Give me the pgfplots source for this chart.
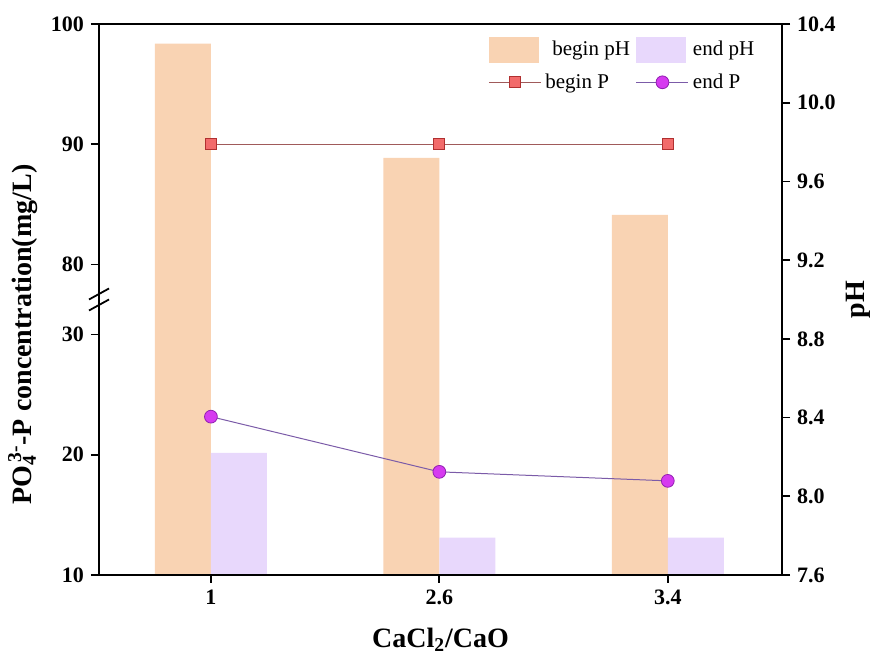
\documentclass[border=0pt]{standalone}
\usepackage{fontspec}
\setmainfont{Liberation Serif}
\usepackage{pgfplots}
\pgfplotsset{compat=1.18}

\definecolor{peach}{HTML}{F9D3B3}
\definecolor{lav}{HTML}{E8D8FC}
\definecolor{bpline}{HTML}{A05A5A}
\definecolor{bpfill}{HTML}{F26B6B}
\definecolor{bpedge}{HTML}{B03030}
\definecolor{epline}{HTML}{7B5BA8}
\definecolor{epfill}{HTML}{D63AF0}
\definecolor{epedge}{HTML}{9020B0}

\pgfplotsset{
  wideline legend/.style={legend image code/.code={%
    \draw[mark repeat=2,mark phase=2,##1] plot coordinates {(0pt,0pt) (13pt,0pt) (26pt,0pt)};}},
  widebar legend/.style={legend image code/.code={%
    \fill[##1] (0pt,-6.5pt) rectangle (25pt,6.5pt);}},
  common/.style={
    scale only axis, width=341.5pt, height=275.5pt,
    xmin=-0.49, xmax=2.5,
    tick align=outside, major tick length=4pt,
    axis line style={line width=0.9pt},
    every tick/.style={line width=0.9pt, black},
    ticklabel style={font=\fontsize{11}{13}\selectfont\bfseries},
    /pgf/number format/assume math mode=true,
  },
}

% pH (right axis, bars)
\pgfplotstableread{
x beginpH endpH
0 10.30 8.22
1 9.72  7.79
2 9.43  7.79
}\phdata

% PO4-P concentration (left axis, broken: 10-30 and 80-100)
\pgfplotstableread{
x beginP endP
0 90 23.17
1 90 18.58
2 90 17.83
}\pdata

\begin{document}
\begin{tikzpicture}
\begin{axis}[common,
  name=ph,
  axis x line=none,
  axis y line*=right,
  ymin=7.6, ymax=10.4,
  ytick={7.6,8.0,8.4,8.8,9.2,9.6,10.0,10.4},
  yticklabel style={/pgf/number format/fixed, /pgf/number format/fixed zerofill, /pgf/number format/precision=1},
  ylabel={pH},
  ylabel style={font=\fontsize{14}{16}\selectfont\bfseries, at={(axis description cs:1,0.5)}, anchor=center, rotate=0, yshift=-38pt},
]
\addplot[ybar, bar width=28pt, bar shift=-14pt, fill=peach, draw=none] table[x=x, y=beginpH] {\phdata};
\addplot[ybar, bar width=28pt, bar shift=14pt, fill=lav, draw=none] table[x=x, y=endpH] {\phdata};
\end{axis}

\begin{axis}[common,
  name=lp,
  ymin=10, ymax=55.8333,
  xtick={0,1,2}, xticklabels={1,2.6,3.4},
  xtick pos=bottom, ytick pos=left,
  ytick={10,20,30,35.8333,45.8333,55.8333},
  yticklabels={10,20,30,80,90,100},
  y filter/.expression={y>50 ? y-44.16667 : y},
  xlabel={CaCl\textsubscript{2}/CaO},
  xlabel style={font=\fontsize{14}{16}\selectfont\bfseries, at={(axis description cs:0.5,0)}, anchor=center, yshift=-32.5pt},
  ylabel={PO\rlap{\textsubscript{4}}\textsuperscript{\,3-}-P concentration(mg/L)},
  ylabel style={font=\fontsize{14}{16}\selectfont\bfseries, at={(axis description cs:0,0.436)}, anchor=center, yshift=38pt},
  legend columns=2,
  legend style={draw=none, fill=none, at={(0.5695,0.978)}, anchor=north west,
    font=\fontsize{10.5}{12}\selectfont, row sep=3.5pt, inner sep=0pt,
    /tikz/every even column/.append style={column sep=1pt}},
  legend cell align=left,
]
\addlegendimage{widebar legend, fill=peach, draw=none}
\addlegendentry{\hspace{3.5pt}begin pH}
\addlegendimage{widebar legend, fill=lav, draw=none}
\addlegendentry{end pH}
\addplot[wideline legend, color=bpline, line width=0.5pt, mark=square*, mark size=2.75pt,
  mark options={fill=bpfill, draw=bpedge, line width=0.5pt}] table[x=x, y=beginP] {\pdata};
\addlegendentry{begin P}
\addplot[wideline legend, color=epline, line width=0.5pt, mark=*, mark size=3.2pt,
  mark options={fill=epfill, draw=epedge, line width=0.4pt}] table[x=x, y=endP] {\pdata};
\addlegendentry{end P}
\end{axis}

% axis break marks on the left axis
\draw[line width=0.9pt] ([shift={(-5pt,0pt)}]lp.west) -- ++(10pt,5.5pt);
\draw[line width=0.9pt] ([shift={(-5pt,-5.5pt)}]lp.west) -- ++(10pt,5.5pt);

\pgfresetboundingbox
\path ([shift={(-49.5pt,-43.5pt)}]lp.south west) rectangle ([shift={(44pt,12pt)}]lp.north east);
\end{tikzpicture}
\end{document}
